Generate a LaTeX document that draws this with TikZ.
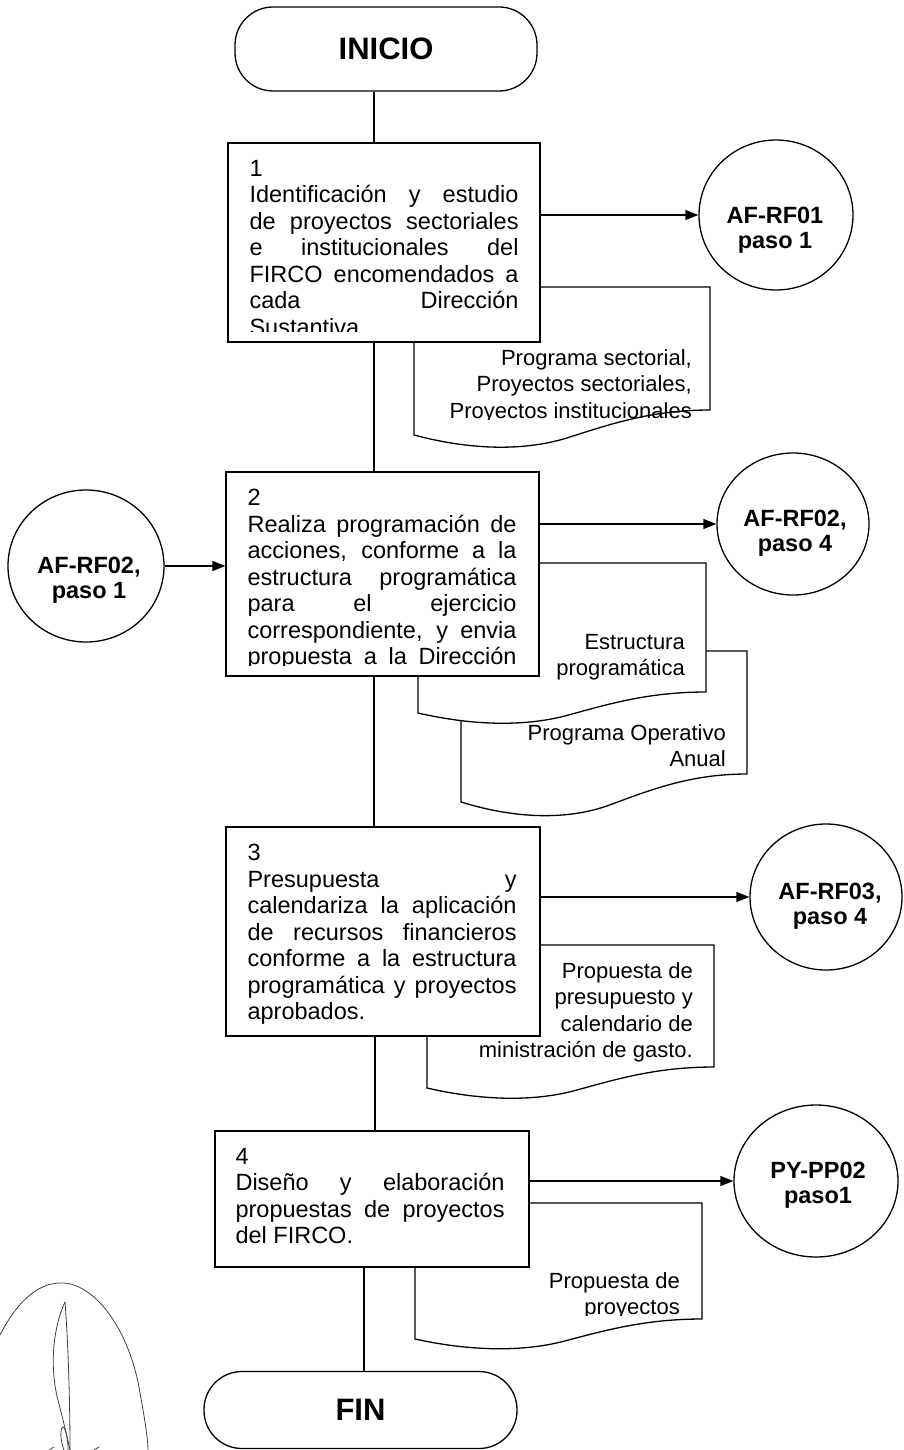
\documentclass[tikz,border=0pt]{standalone}
\usepackage{fontspec}
\setmainfont{Liberation Sans}
\usetikzlibrary{shapes.geometric,arrows.meta}

% Document symbol: flat top, straight sides, wavy bottom edge.
% #1 left x, #2 top y, #3 right x, #4 bottom-left y, #5 rise of the right end
\newcommand\docshape[5]{%
  \filldraw[docline] (#1,#2) -- (#3,#2) -- (#3,{#4-#5})
    .. controls ({#1+0.8*(#3-#1)},{#4-#5}) and ({#1+0.66*(#3-#1)},{#4-8/19*#5})
    .. ({#1+0.52*(#3-#1)},{#4+2/19*#5})
    .. controls ({#1+0.38*(#3-#1)},{#4+12/19*#5}) and ({#1+0.2*(#3-#1)},{#4+12/19*#5})
    .. (#1,#4) -- cycle;}

% loose justification for the step texts, no hyphenation
\newcommand\loosejust{\tolerance=10000 \hbadness=10000 \hyphenpenalty=10000 }

\begin{document}
\begin{tikzpicture}[x=1pt,y=-1pt,
  flow/.style={line width=1.3pt},
  arrow/.style={flow,-{Triangle[length=13pt,width=10pt]}},
  docline/.style={line width=1.3pt,fill=white},
  stepbox/.style={draw,fill=white,line width=1.3pt,inner sep=0pt},
  steptext/.style={anchor=north west,inner sep=0pt,text width=269pt,align=justify,
    font={\fontsize{23.5}{26.5}\selectfont\loosejust}},
  doctext/.style={anchor=north east,inner sep=0pt,align=right,
    font=\fontsize{22}{26.5}\selectfont},
  terminal/.style={draw,line width=1.3pt,rounded corners=38pt,inner sep=0pt,
    font=\fontsize{31}{36}\selectfont\bfseries},
  link/.style={ellipse,draw,line width=1.3pt,inner sep=0pt},
  linktext/.style={align=center,inner sep=0pt,font=\fontsize{23.5}{25}\selectfont\bfseries},
  sig/.style={line width=0.8pt,black!75,line cap=round}]

\useasboundingbox (0,0) rectangle (903,1450);

% main flow spine
\coordinate (sp) at (374,0);
\coordinate (spfin) at (364,0);

% ---------- documents (underneath the step boxes) ----------
\docshape{461}{651}{747}{802}{28}
\docshape{418}{563}{706}{713}{21}
\docshape{414}{287}{710}{435}{25}
\docshape{427}{945}{714}{1088}{21}
\docshape{415}{1203}{702}{1339}{20}

\begin{scope}
  \clip (414,287) rectangle (710,419);
  \node[doctext] (d1t) at (692,349) {Programa sectorial,\\Proyectos sectoriales,\\Proyectos institucionales};
\end{scope}
\node[doctext] (d2at) at (685,634) {Estructura\\programática};
\node[doctext] (d2bt) at (726,724) {Programa Operativo\\Anual};
\node[doctext] (d3t) at (693,962) {Propuesta de\\presupuesto y\\calendario de\\ministración de gasto.};
\begin{scope}
  \clip (415,1203) rectangle (702,1315.5);
  \node[doctext] (d4t) at (680,1272) {Propuesta de\\proyectos};
\end{scope}

% ---------- step boxes ----------
\node[stepbox,minimum width=312pt,minimum height=199pt] (b1) at (384,242.5) {};
\node[stepbox,minimum width=313pt,minimum height=204pt] (b2) at (382.5,574) {};
\node[stepbox,minimum width=314pt,minimum height=209pt] (b3) at (383,931.5) {};
\node[stepbox,minimum width=314pt,minimum height=136pt] (b4) at (372,1199) {};

\begin{scope}
  \clip (b1.north west) rectangle ([yshift=11pt]b1.south east);
  \node[steptext] (t1) at ([xshift=22pt,yshift=-17.6pt]b1.north west)
    {1\newline Identificación y estudio\linebreak de proyectos sectoriales\linebreak
     e institucionales del\linebreak FIRCO encomendados a\linebreak cada Dirección\linebreak Sustantiva};
\end{scope}
\begin{scope}
  \clip (b2.north west) rectangle ([yshift=11pt]b2.south east);
  \node[steptext] (t2) at ([xshift=22pt,yshift=-17.6pt]b2.north west)
    {2\newline Realiza programación de\linebreak acciones, conforme a la\linebreak
     estructura programática\linebreak para el ejercicio\linebreak
     correspondiente, y envia\linebreak propuesta a la Dirección\linebreak\null};
\end{scope}
\node[steptext] (t3) at ([xshift=22pt,yshift=-17.6pt]b3.north west)
  {3\newline Presupuesta y\linebreak calendariza la aplicación\linebreak
   de recursos financieros\linebreak conforme a la estructura\linebreak
   programática y proyectos\linebreak aprobados.};
\node[steptext] (t4) at ([xshift=21pt,yshift=-17.6pt]b4.north west)
  {4\newline Diseño y elaboración\linebreak propuestas de proyectos\linebreak del FIRCO.};

% ---------- terminals ----------
\node[terminal,minimum width=302pt,minimum height=84pt] (ini) at (386,49) {INICIO};
\node[terminal,minimum width=313pt,minimum height=77pt] (fin) at (360.5,1410) {FIN};

% ---------- off-page links ----------
\node[link,minimum width=154pt,minimum height=150pt] (c1) at (776,215) {};
\node[linktext] (c1t) at (775,230) {AF-RF01\\paso 1};
\node[link,minimum width=152pt,minimum height=142pt] (c2) at (793,524) {};
\node[linktext] (c2t) at (795,533) {AF-RF02,\\paso 4};
\node[link,minimum width=156pt,minimum height=152pt] (cin) at (86,566) {};
\node[linktext] (cint) at (89,580) {AF-RF02,\\paso 1};
\node[link,minimum width=152pt,minimum height=146pt] (c3) at (826,897) {};
\node[linktext] (c3t) at (830,906) {AF-RF03,\\paso 4};
\node[link,minimum width=164pt,minimum height=152pt] (c4) at (816,1181) {};
\node[linktext] (c4t) at (818,1185) {PY-PP02\\paso1};

% ---------- connectors ----------
\draw[flow] (ini.south -| sp) -- (b1.north -| sp);
\draw[flow] (b1.south -| sp) -- (b2.north -| sp);
\draw[flow] (b2.south -| sp) -- (b3.north -| sp);
\draw[flow] ([xshift=1pt]b3.south -| sp) -- ([xshift=1pt]b4.north -| sp);
\draw[flow] (b4.south -| spfin) -- (fin.north -| spfin);

\draw[arrow] (b1.east |- c1.west) -- (c1.west);
\draw[arrow] (b2.east |- c2.west) -- (c2.west);
\draw[arrow] (cin.east) -- (cin.east -| b2.west);
\draw[arrow] (b3.east |- c3.west) -- (c3.west);
\draw[arrow] (b4.east |- c4.west) -- (c4.west);

% ---------- handwritten initials ----------
\draw[sig] (0,1335) .. controls (20,1296) and (42,1282) .. (63,1283)
  .. controls (95,1284) and (130,1330) .. (140,1393)
  .. controls (145,1420) and (148,1440) .. (148,1450);
\draw[sig] (65,1302) .. controls (68,1340) and (70,1400) .. (70,1450);
\draw[sig] (65,1302) .. controls (52,1330) and (50,1370) .. (58,1400)
  .. controls (63,1420) and (68,1440) .. (70,1450);
\draw[sig] (64,1450) .. controls (60,1440) and (60,1428) .. (63,1427)
  .. controls (66,1428) and (68,1440) .. (68,1450);
\draw[sig] (49,1450) -- (54,1447);
\draw[sig] (94,1450) -- (99,1447);
\end{tikzpicture}
\end{document}
